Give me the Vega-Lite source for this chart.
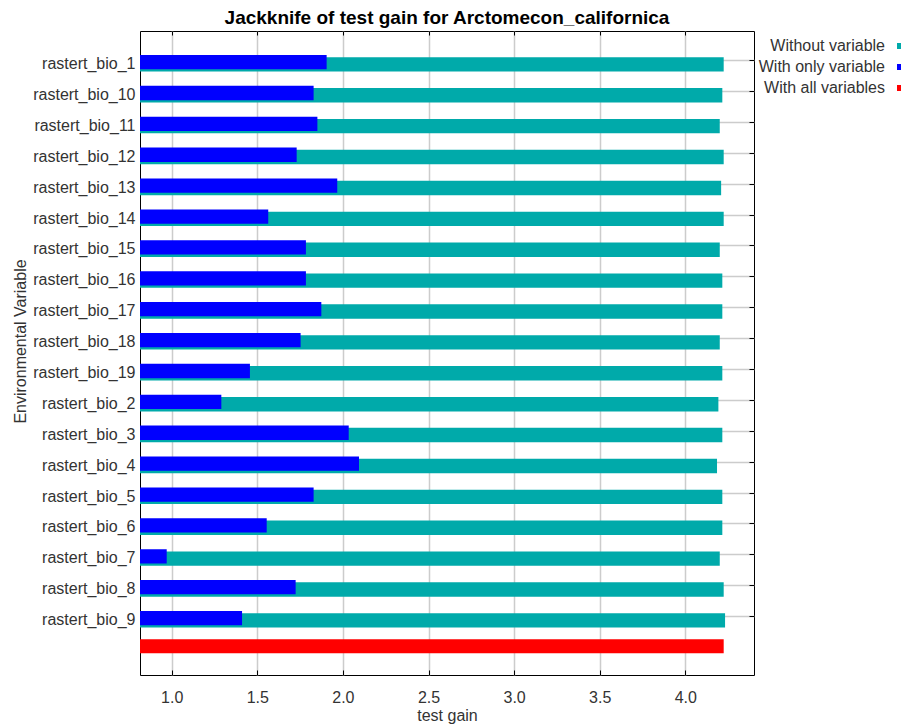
{
  "$schema": "https://vega.github.io/schema/vega-lite/v6.json",
  "autosize": {"type": "none"},
  "padding": {"left": 140, "top": 31, "right": 147, "bottom": 50},
  "width": 614,
  "height": 644,
  "background": "#ffffff",
  "title": {
    "text": "Jackknife of test gain for Arctomecon_californica",
    "anchor": "middle",
    "font": "Liberation Sans",
    "fontSize": 19,
    "fontWeight": "bold",
    "color": "#000000",
    "baseline": "alphabetic",
    "offset": 8,
    "dy": 20
  },
  "data": {
    "values": [
      {"variable": "rastert_bio_1", "series": "Without variable", "gain": 4.224},
      {"variable": "rastert_bio_10", "series": "Without variable", "gain": 4.216},
      {"variable": "rastert_bio_11", "series": "Without variable", "gain": 4.201},
      {"variable": "rastert_bio_12", "series": "Without variable", "gain": 4.224},
      {"variable": "rastert_bio_13", "series": "Without variable", "gain": 4.209},
      {"variable": "rastert_bio_14", "series": "Without variable", "gain": 4.224},
      {"variable": "rastert_bio_15", "series": "Without variable", "gain": 4.201},
      {"variable": "rastert_bio_16", "series": "Without variable", "gain": 4.216},
      {"variable": "rastert_bio_17", "series": "Without variable", "gain": 4.216},
      {"variable": "rastert_bio_18", "series": "Without variable", "gain": 4.201},
      {"variable": "rastert_bio_19", "series": "Without variable", "gain": 4.216},
      {"variable": "rastert_bio_2", "series": "Without variable", "gain": 4.193},
      {"variable": "rastert_bio_3", "series": "Without variable", "gain": 4.216},
      {"variable": "rastert_bio_4", "series": "Without variable", "gain": 4.185},
      {"variable": "rastert_bio_5", "series": "Without variable", "gain": 4.216},
      {"variable": "rastert_bio_6", "series": "Without variable", "gain": 4.216},
      {"variable": "rastert_bio_7", "series": "Without variable", "gain": 4.201},
      {"variable": "rastert_bio_8", "series": "Without variable", "gain": 4.224},
      {"variable": "rastert_bio_9", "series": "Without variable", "gain": 4.232},
      {"variable": "rastert_bio_1", "series": "With only variable", "gain": 1.905},
      {"variable": "rastert_bio_10", "series": "With only variable", "gain": 1.829},
      {"variable": "rastert_bio_11", "series": "With only variable", "gain": 1.851},
      {"variable": "rastert_bio_12", "series": "With only variable", "gain": 1.730},
      {"variable": "rastert_bio_13", "series": "With only variable", "gain": 1.967},
      {"variable": "rastert_bio_14", "series": "With only variable", "gain": 1.564},
      {"variable": "rastert_bio_15", "series": "With only variable", "gain": 1.784},
      {"variable": "rastert_bio_16", "series": "With only variable", "gain": 1.784},
      {"variable": "rastert_bio_17", "series": "With only variable", "gain": 1.874},
      {"variable": "rastert_bio_18", "series": "With only variable", "gain": 1.753},
      {"variable": "rastert_bio_19", "series": "With only variable", "gain": 1.457},
      {"variable": "rastert_bio_2", "series": "With only variable", "gain": 1.290},
      {"variable": "rastert_bio_3", "series": "With only variable", "gain": 2.034},
      {"variable": "rastert_bio_4", "series": "With only variable", "gain": 2.094},
      {"variable": "rastert_bio_5", "series": "With only variable", "gain": 1.829},
      {"variable": "rastert_bio_6", "series": "With only variable", "gain": 1.555},
      {"variable": "rastert_bio_7", "series": "With only variable", "gain": 0.971},
      {"variable": "rastert_bio_8", "series": "With only variable", "gain": 1.724},
      {"variable": "rastert_bio_9", "series": "With only variable", "gain": 1.411},
      {"variable": "all", "series": "With all variables", "gain": 4.224}
    ]
  },
  "encoding": {
    "color": {
      "field": "series",
      "type": "nominal",
      "scale": {
        "domain": ["Without variable", "With only variable", "With all variables"],
        "range": ["#00AAAA", "#0000FF", "#FF0000"]
      },
      "legend": {
        "orient": "none",
        "legendX": 752,
        "legendY": 7,
        "title": null,
        "padding": 0,
        "symbolType": "square",
        "symbolSize": 36,
        "symbolStrokeWidth": 0,
        "symbolOpacity": 1,
        "labelAlign": "right",
        "labelOffset": -23,
        "labelFont": "Liberation Sans",
        "labelFontSize": 16,
        "labelColor": "#333333",
        "rowPadding": 5
      }
    }
  },
  "resolve": {"axis": {"x": "independent", "y": "independent"}},
  "layer": [
    {
      "transform": [{"filter": "datum.series == 'Without variable'"}],
      "mark": {"type": "bar", "size": 14.4, "yOffset": 3.8, "clip": true},
      "encoding": {
        "x": {
          "field": "gain", "type": "quantitative",
          "scale": {"domain": [0.815, 4.401], "zero": false, "nice": false},
          "axis": {
            "orient": "bottom",
            "values": [1, 1.5, 2, 2.5, 3, 3.5, 4],
            "format": ".1f",
            "grid": true, "gridColor": "#cccccc", "gridWidth": 1.5,
            "ticks": true, "tickSize": -5, "tickColor": "#000000", "tickWidth": 1,
            "domain": false,
            "labelFont": "Liberation Sans", "labelFontSize": 16, "labelColor": "#333333",
            "labelPadding": 19, "labelBaseline": "top",
            "title": "test gain",
            "titleFont": "Liberation Sans", "titleFontSize": 16, "titleFontWeight": "normal", "titleColor": "#333333",
            "titleBaseline": "alphabetic", "titleY": 45.5
          }
        },
        "y": {
          "field": "variable", "type": "nominal",
          "scale": {
            "type": "band",
            "domain": ["rastert_bio_1", "rastert_bio_10", "rastert_bio_11", "rastert_bio_12", "rastert_bio_13", "rastert_bio_14", "rastert_bio_15", "rastert_bio_16", "rastert_bio_17", "rastert_bio_18", "rastert_bio_19", "rastert_bio_2", "rastert_bio_3", "rastert_bio_4", "rastert_bio_5", "rastert_bio_6", "rastert_bio_7", "rastert_bio_8", "rastert_bio_9", "all"],
            "paddingInner": 0, "paddingOuter": 0.424, "align": 0.54
          },
          "axis": {
            "orient": "left",
            "values": ["rastert_bio_1", "rastert_bio_10", "rastert_bio_11", "rastert_bio_12", "rastert_bio_13", "rastert_bio_14", "rastert_bio_15", "rastert_bio_16", "rastert_bio_17", "rastert_bio_18", "rastert_bio_19", "rastert_bio_2", "rastert_bio_3", "rastert_bio_4", "rastert_bio_5", "rastert_bio_6", "rastert_bio_7", "rastert_bio_8", "rastert_bio_9"],
            "bandPosition": 0.5,
            "ticks": false, "domain": false,
            "grid": true, "gridColor": "#cccccc", "gridWidth": 1.5,
            "labelFont": "Liberation Sans", "labelFontSize": 16, "labelColor": "#333333",
            "labelPadding": 5, "labelOffset": 3.5,
            "title": "Environmental Variable",
            "titleFont": "Liberation Sans", "titleFontSize": 16, "titleFontWeight": "normal", "titleColor": "#333333",
            "titleAngle": 270, "titleAlign": "center", "titleBaseline": "middle",
            "titleX": -120, "titleY": 310
          }
        }
      }
    },
    {
      "transform": [{"filter": "datum.series == 'With only variable'"}],
      "mark": {"type": "bar", "size": 14.3, "yOffset": 1.5, "clip": true},
      "encoding": {
        "x": {
          "field": "gain", "type": "quantitative",
          "scale": {"domain": [0.815, 4.401], "zero": false, "nice": false},
          "axis": {
            "orient": "top",
            "values": [1, 1.5, 2, 2.5, 3, 3.5, 4],
            "grid": false, "labels": false, "domain": false,
            "ticks": true, "tickSize": -4, "tickColor": "#000000", "tickWidth": 1,
            "title": null
          }
        },
        "y": {
          "field": "variable", "type": "nominal",
          "axis": {
            "orient": "right",
            "values": ["rastert_bio_1", "rastert_bio_10", "rastert_bio_11", "rastert_bio_12", "rastert_bio_13", "rastert_bio_14", "rastert_bio_15", "rastert_bio_16", "rastert_bio_17", "rastert_bio_18", "rastert_bio_19", "rastert_bio_2", "rastert_bio_3", "rastert_bio_4", "rastert_bio_5", "rastert_bio_6", "rastert_bio_7", "rastert_bio_8", "rastert_bio_9"],
            "bandPosition": 0.5,
            "grid": false, "labels": false, "domain": false,
            "ticks": true, "tickSize": -5, "tickColor": "#000000", "tickWidth": 1,
            "title": null
          }
        }
      }
    },
    {
      "transform": [{"filter": "datum.series == 'With all variables'"}],
      "mark": {"type": "bar", "size": 14, "yOffset": -1.3, "clip": true},
      "encoding": {
        "x": {"field": "gain", "type": "quantitative", "scale": {"domain": [0.815, 4.401], "zero": false, "nice": false}, "axis": null},
        "y": {"field": "variable", "type": "nominal", "axis": null}
      }
    }
  ],
  "config": {
    "font": "Liberation Sans",
    "view": {"stroke": "#000000", "strokeWidth": 1}
  }
}
